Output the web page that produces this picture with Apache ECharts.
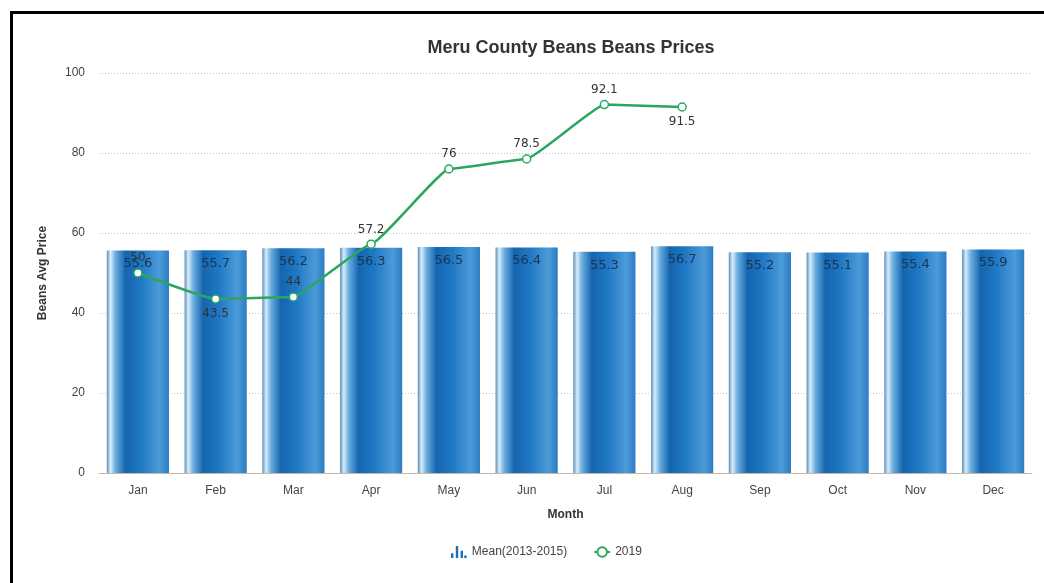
<!DOCTYPE html>
<html>
<head>
<meta charset="utf-8">
<script src="https://cdn.jsdelivr.net/npm/echarts@6/dist/echarts.min.js"></script>
<style>
  html, body { margin: 0; padding: 0; background: #fff; }
  .frame {
    position: absolute; left: 10px; top: 11px; width: 1100px; height: 700px;
    border-left: 3px solid #000; border-top: 3px solid #000;
  }
  #chart { position: absolute; left: 0; top: 0; width: 1044px; height: 583px; }
</style>
</head>
<body>
<div class="frame"></div>
<div id="chart"></div>
<script>
const months = ["Jan", "Feb", "Mar", "Apr", "May", "Jun", "Jul", "Aug", "Sep", "Oct", "Nov", "Dec"];
const meanPrices = [55.6, 55.7, 56.2, 56.3, 56.5, 56.4, 55.3, 56.7, 55.2, 55.1, 55.4, 55.9];
const prices2019 = [50, 43.5, 44, 57.2, 76, 78.5, 92.1, 91.5];
// which 2019 labels sit under the point
const belowIdx = [1, 7];

let my_chart = echarts.init(document.getElementById("chart"));

let barColor = new echarts.graphic.LinearGradient(0, 0, 1, 0, [
  { offset: 0, color: "#5c8fb8" },
  { offset: 0.06, color: "#d8ecfa" },
  { offset: 0.14, color: "#6aaee0" },
  { offset: 0.3, color: "#1565ae" },
  { offset: 0.55, color: "#1f78c4" },
  { offset: 0.85, color: "#4d9bd8" },
  { offset: 1, color: "#2a7cc4" },
]);

my_chart.setOption({
  animation: false,
  title: {
    text: "Meru County Beans Beans Prices",
    left: 566,
    top: 34,
    textAlign: "center",
    textStyle: { fontFamily: "Liberation Sans", fontSize: 18, fontWeight: "bold", color: "#333" },
  },
  legend: {
    bottom: 20,
    left: 446,
    itemGap: 26,
    textStyle: { fontFamily: "Liberation Sans", fontSize: 12, color: "#444" },
    data: [
      { name: "Mean(2013-2015)", icon: "path://M0,6H2V10H0ZM4,0H6V10H4ZM8,4H10V10H8ZM11,8H13V10H11Z", itemStyle: { color: "#1f6fb8" } },
      { name: "2019" },
    ],
    itemWidth: 16,
    itemHeight: 12,
  },
  grid: { left: 99, right: 12, top: 73, bottom: 110 },
  xAxis: {
    type: "category",
    data: months,
    name: "Month",
    nameLocation: "middle",
    nameGap: 36,
    nameTextStyle: { fontFamily: "Liberation Sans", fontSize: 12, fontWeight: "bold", color: "#333" },
    axisLine: { lineStyle: { color: "#c8b8a8" } },
    axisTick: { show: false },
    axisLabel: { fontFamily: "Liberation Sans", fontSize: 12, color: "#444", margin: 12 },
  },
  yAxis: {
    type: "value",
    min: 0,
    max: 100,
    interval: 20,
    name: "Beans Avg Price",
    nameLocation: "middle",
    nameGap: 50,
    nameTextStyle: { fontFamily: "Liberation Sans", fontSize: 12, fontWeight: "bold", color: "#333" },
    axisLine: { show: false },
    axisTick: { show: false },
    axisLabel: { fontFamily: "Liberation Sans", fontSize: 12, color: "#444", margin: 14 },
    splitLine: { lineStyle: { color: "#c4c4c4", type: [1, 2] } },
  },
  series: [
    {
      name: "Mean(2013-2015)",
      type: "bar",
      data: meanPrices,
      barWidth: "80%",
      itemStyle: { color: barColor },
      label: {
        show: true,
        position: "insideTop",
        distance: 7,
        fontFamily: "DejaVu Sans",
        fontSize: 13,
        color: "#1a3550",
      },
    },
    {
      name: "2019",
      type: "line",
      data: prices2019.map((v, i) => ({
        value: v,
        label: { position: belowIdx.includes(i) ? "bottom" : "top" },
      })),
      smooth: 0.1,
      smoothMonotone: "x",
      symbol: "circle",
      symbolSize: 8,
      color: "#2aa660",
      lineStyle: { color: "#2aa660", width: 2.5 },
      itemStyle: { color: "#fff", borderColor: "#2aa660", borderWidth: 1.5 },
      label: {
        show: true,
        position: "top",
        distance: 4,
        fontFamily: "DejaVu Sans",
        fontSize: 12,
        color: "#333",
      },
      z: 5,
    },
  ],
});
</script>
</body>
</html>
